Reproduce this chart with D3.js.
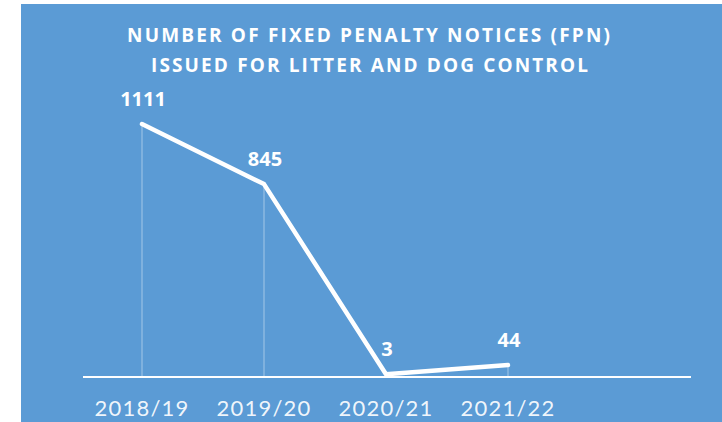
<!DOCTYPE html>
<html>
<head>
<meta charset="utf-8">
<script src="https://cdn.jsdelivr.net/npm/d3@7"></script>
<style>
  html, body { margin: 0; padding: 0; background: #ffffff; }
  svg { display: block; }
</style>
</head>
<body>
<script>
const categories = ["2018/19", "2019/20", "2020/21", "2021/22"];
const values = [1111, 845, 3, 44];
const titleLines = ["NUMBER OF FIXED PENALTY NOTICES (FPN)", "ISSUED FOR LITTER AND DOG CONTROL"];

const W = 722, H = 422;
const blue = "#5b9bd5";

const svg = d3.select("body").append("svg")
  .attr("width", W).attr("height", H);

svg.append("rect")
  .attr("x", 21).attr("y", 4)
  .attr("width", W - 21).attr("height", H - 4)
  .attr("fill", blue);

// Title
const titleLayout = [{ y: 41.5, x0: 127, x1: 610 }, { y: 71.5, x0: 151, x1: 588 }];
svg.selectAll("text.title")
  .data(titleLines)
  .join("text")
  .attr("class", "title")
  .attr("x", (d, i) => titleLayout[i].x0)
  .attr("y", (d, i) => titleLayout[i].y)
  .attr("textLength", (d, i) => titleLayout[i].x1 - titleLayout[i].x0)
  .attr("lengthAdjust", "spacing")
  .attr("fill", "#ffffff")
  .attr("font-family", "'Open Sans', sans-serif")
  .attr("font-weight", 700)
  .attr("font-size", 19)
  .text(d => d);

// Scales
const x = d3.scalePoint().domain(categories).range([142, 508]);
const y = d3.scaleLinear().domain([0, 1111]).range([375, 124]);
const baseY = 377;

// Baseline axis
svg.append("line")
  .attr("x1", 83).attr("x2", 691)
  .attr("y1", baseY).attr("y2", baseY)
  .attr("stroke", "#ffffff")
  .attr("stroke-width", 2);

// Drop lines
const data = categories.map((c, i) => ({ c, v: values[i] }));
svg.selectAll("line.drop")
  .data(data)
  .join("line")
  .attr("class", "drop")
  .attr("x1", d => x(d.c)).attr("x2", d => x(d.c))
  .attr("y1", d => y(d.v)).attr("y2", baseY)
  .attr("stroke", "#ffffff")
  .attr("stroke-opacity", 0.45)
  .attr("stroke-width", 1);

// Line
const line = d3.line().x(d => x(d.c)).y(d => y(d.v));
svg.append("path")
  .datum(data)
  .attr("d", line)
  .attr("fill", "none")
  .attr("stroke", "#ffffff")
  .attr("stroke-width", 4.5)
  .attr("stroke-linejoin", "round")
  .attr("stroke-linecap", "round");

// Value labels
svg.selectAll("text.val")
  .data(data)
  .join("text")
  .attr("class", "val")
  .attr("x", d => x(d.c) + 1)
  .attr("y", d => y(d.v) - 18)
  .attr("text-anchor", "middle")
  .attr("fill", "#ffffff")
  .attr("font-family", "'Open Sans', sans-serif")
  .attr("font-weight", 700)
  .attr("font-size", 20)
  .text(d => d.v);

// Category labels
svg.selectAll("text.cat")
  .data(categories)
  .join("text")
  .attr("class", "cat")
  .attr("x", d => x(d))
  .attr("y", 416)
  .attr("text-anchor", "middle")
  .attr("fill", "#ffffff")
  .attr("fill-opacity", 0.92)
  .attr("font-family", "Lato, sans-serif")
  .attr("font-weight", 400)
  .attr("font-size", 22)
  .attr("letter-spacing", 1.2)
  .text(d => d);
</script>
</body>
</html>
